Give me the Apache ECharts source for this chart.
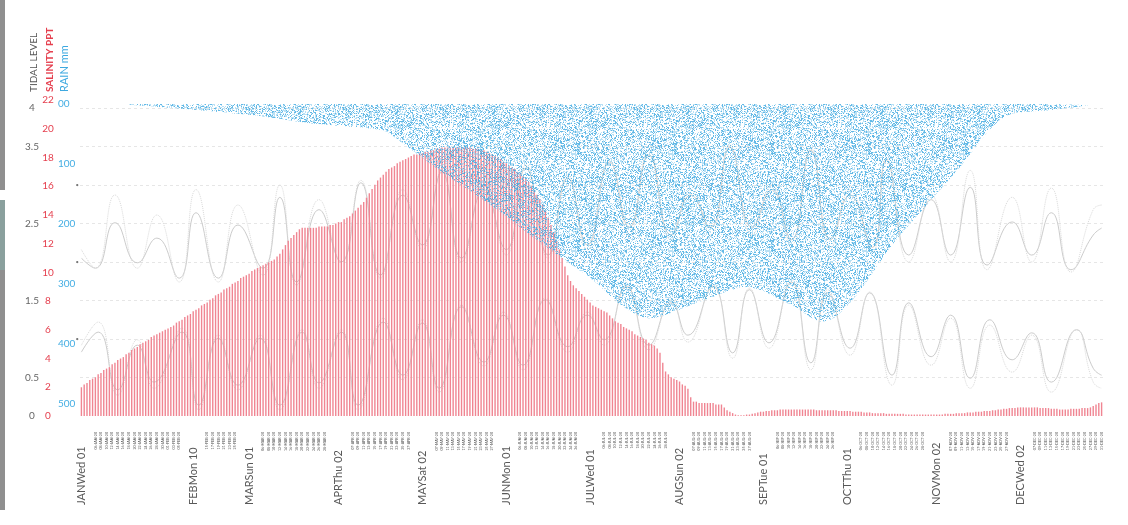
<!DOCTYPE html>
<html>
<head>
<meta charset="utf-8">
<script src="https://cdn.jsdelivr.net/npm/echarts@6/dist/echarts.min.js"></script>
<style>
html, body { margin: 0; padding: 0; background: #fff; }
#chart { width: 1128px; height: 525px; }
</style>
</head>
<body>
<div id="chart"></div>
<script>
// month tick labels (day index in 2020 -> text)
var monthTickDays = [0, 40, 60, 92, 122, 152, 182, 214, 244, 274, 306, 336];
var monthTickText = ['JANWed 01', 'FEBMon 10', 'MARSun 01', 'APRThu 02', 'MAYSat 02', 'JUNMon 01',
                     'JULWed 01', 'AUGSun 02', 'SEPTue 01', 'OCTThu 01', 'NOVMon 02', 'DECWed 02'];

// daily salinity (ppt), one row per month
var salJan = [2.0,2.2,2.3,2.5,2.6,2.7,2.9,3.0,3.2,3.3,3.4,3.6,3.7,3.9,4.0,4.1,4.3,4.4,4.6,4.7,4.8,5.0,5.1,5.2,5.3,5.5,5.6,5.7,5.8,5.9,6.0];
var salFeb = [6.1,6.2,6.3,6.5,6.6,6.7,6.9,7.0,7.1,7.3,7.4,7.5,7.7,7.8,7.9,8.1,8.2,8.4,8.5,8.6,8.8,8.9,9.0,9.2,9.3,9.4,9.6,9.7,9.8];
var salMar = [9.9,10.1,10.2,10.3,10.4,10.5,10.6,10.7,10.8,10.9,11.1,11.3,11.6,11.9,12.2,12.4,12.6,12.8,13.0,13.1,13.1,13.1,13.1,13.1,13.1,13.2,13.2,13.2,13.2,13.3,13.3];
var salApr = [13.4,13.5,13.5,13.7,13.8,13.9,14.1,14.3,14.5,14.7,14.9,15.2,15.5,15.8,16.1,16.4,16.6,16.8,17.0,17.2,17.3,17.4,17.6,17.7,17.8,17.9,18.0,18.1,18.2,18.2];
var salMay = [18.3,18.3,18.4,18.4,18.5,18.5,18.6,18.6,18.7,18.7,18.7,18.7,18.7,18.7,18.7,18.7,18.7,18.7,18.7,18.6,18.6,18.6,18.5,18.5,18.4,18.3,18.2,18.1,18.0,17.9,17.7];
var salJun = [17.6,17.4,17.3,17.2,17.0,16.9,16.7,16.5,16.3,16.0,15.7,15.4,15.1,14.7,14.3,13.8,13.3,12.8,12.2,11.6,11.0,10.4,9.8,9.4,9.1,8.9,8.7,8.5,8.3,8.1];
var salJul = [7.9,7.7,7.6,7.5,7.4,7.3,7.2,7.0,6.8,6.6,6.5,6.4,6.2,6.1,6.0,5.9,5.7,5.6,5.5,5.4,5.3,5.1,5.0,4.9,4.7,4.4,3.7,3.1,2.9,2.7,2.6];
var salAug = [2.5,2.4,2.2,2.1,1.9,1.3,1.0,1.0,0.9,0.9,0.9,0.9,0.9,0.9,0.8,0.8,0.8,0.6,0.4,0.3,0.2,0.1,0.05,0.05,0.05,0.1,0.1,0.15,0.2,0.25,0.3];
var salSep = [0.3,0.35,0.35,0.4,0.4,0.4,0.45,0.45,0.45,0.45,0.45,0.45,0.45,0.45,0.45,0.45,0.45,0.45,0.45,0.4,0.4,0.4,0.4,0.4,0.4,0.4,0.4,0.35,0.35,0.35];
var salOct = [0.35,0.35,0.3,0.3,0.3,0.3,0.25,0.25,0.25,0.2,0.2,0.2,0.2,0.2,0.15,0.15,0.15,0.15,0.15,0.15,0.15,0.1,0.1,0.1,0.1,0.1,0.1,0.1,0.1,0.1,0.1];
var salNov = [0.1,0.1,0.1,0.1,0.15,0.15,0.15,0.15,0.2,0.2,0.2,0.2,0.25,0.25,0.25,0.3,0.3,0.3,0.35,0.35,0.35,0.4,0.4,0.45,0.45,0.5,0.5,0.55,0.55,0.55];
var salDec = [0.6,0.6,0.6,0.6,0.6,0.6,0.6,0.6,0.55,0.55,0.55,0.55,0.5,0.5,0.5,0.45,0.45,0.45,0.45,0.5,0.5,0.5,0.5,0.55,0.55,0.55,0.6,0.7,0.8,0.9,0.95];

// rain (mm), read at the break points of the shaded shape
var rainDays = [14.5, 60, 82, 107, 111, 128, 147, 164, 184, 193, 203, 221, 238, 254, 265, 293, 314, 330, 347, 361];
var rainMm   = [0, 18, 32, 43, 52, 110, 170, 230, 297, 335, 357, 330, 305, 335, 363, 218, 107, 22, 10, 2];

// tidal level, read at daily highs/lows (two lines per band)
var highTideDays = [0,5,12,20,27,35,41,49,56,65,71,77,85,93,100,107,115,122,129,136,144,152,159,167,174,181,189,196,203,211,218,225,232,240,247,254,261,268,275,283,288,296,304,311,318,324,333,340,347,354,362,365];
var highTideA = [2.05,1.92,2.51,1.99,2.31,1.79,2.64,1.79,2.48,1.92,2.84,1.74,2.68,2.0,3.03,1.83,2.87,2.22,3.17,2.05,2.94,2.16,3.22,2.09,3.09,2.22,3.30,2.45,3.39,2.35,2.87,2.45,3.49,2.45,2.94,2.29,3.45,2.29,2.87,2.19,3.32,2.09,2.81,2.09,2.97,1.96,2.52,2.09,2.64,1.90,2.35,2.44];
var highTideB = [2.16,1.92,2.87,1.92,2.61,1.74,2.94,1.74,2.74,1.83,3.0,1.70,2.81,2.0,3.06,1.79,2.94,2.16,3.19,2.0,3.0,2.09,3.26,2.05,3.13,2.16,3.32,2.35,3.45,2.29,2.94,2.35,3.52,2.35,3.0,2.22,3.48,2.18,2.94,2.13,3.35,2.0,2.87,2.0,3.19,1.90,2.84,2.0,2.96,1.87,2.68,2.74];
var lowTideDays = [0,6,13,20,26,36,42,49,56,64,71,79,85,93,99,108,115,122,128,136,144,151,158,166,174,181,187,195,203,211,217,226,233,239,246,254,261,267,275,282,290,296,304,311,318,325,333,340,347,356,362,365];
var lowTideA = [0.83,1.09,0.34,0.92,0.44,1.09,0.14,1.01,0.40,1.01,0.14,1.09,0.43,1.09,0.14,1.22,0.53,1.21,0.36,1.42,0.70,1.31,0.66,1.51,0.90,1.31,0.99,1.68,0.92,1.47,1.05,1.68,0.82,1.64,0.95,1.74,0.69,1.60,0.88,1.60,0.53,1.47,0.77,1.31,0.49,1.25,0.73,1.08,0.44,1.12,0.62,0.53];
var lowTideB = [0.92,1.22,0.27,0.99,0.36,1.14,0.08,1.05,0.34,1.05,0.08,1.12,0.36,1.12,0.08,1.27,0.47,1.25,0.31,1.44,0.65,1.35,0.60,1.53,0.83,1.35,0.92,1.70,0.86,1.51,0.96,1.70,0.75,1.66,0.88,1.77,0.60,1.64,0.79,1.61,0.40,1.44,0.66,1.27,0.36,1.18,0.57,1.05,0.31,1.12,0.44,0.36];

var salinity = [].concat(salJan, salFeb, salMar, salApr, salMay, salJun, salJul, salAug, salSep, salOct, salNov, salDec);

// day categories for 2020
var MON = ['JAN','FEB','MAR','APR','MAY','JUN','JUL','AUG','SEP','OCT','NOV','DEC'];
var dayLabels = [];
for (var i = 0; i < 366; i++) {
    var dt = new Date(2020, 0, 1 + i);
    var dd = ('0' + dt.getDate()).slice(-2);
    dayLabels.push(dd + '-' + MON[dt.getMonth()] + '-20');
}

function pairs(xs, ys) {
    var out = [];
    for (var k = 0; k < xs.length; k++) out.push([xs[k], ys[k]]);
    return out;
}

function smallLabelShown(idx) {
    if (idx % 2 !== 1) return false;
    for (var k = 0; k < monthTickDays.length; k++) {
        if (Math.abs(idx - monthTickDays[k]) <= 3) return false;
    }
    return true;
}

// stipple texture for the rain area (fixed integer hash, no randomness)
function makeDots() {
    var n = 97;
    var c = document.createElement('canvas');
    c.width = n; c.height = n;
    var ctx = c.getContext('2d');
    for (var y = 0; y < n; y++) {
        for (var x = 0; x < n; x++) {
            var h = Math.imul(x, 374761393) + Math.imul(y, 668265263);
            h = Math.imul(h ^ (h >>> 13), 1274126177);
            h = ((h ^ (h >>> 16)) >>> 0) / 4294967296;
            if (h < 0.22) {
                ctx.fillStyle = 'rgba(60,168,224,0.8)';
                ctx.fillRect(x, y, 1, 1);
            } else if (h < 0.5) {
                ctx.fillStyle = 'rgba(125,198,236,0.55)';
                ctx.fillRect(x, y, 1, 1);
            }
        }
    }
    return c;
}

var chart = echarts.init(document.getElementById('chart'));

var tideLine = function (name, data, color, type) {
    return {
        name: name, type: 'line', xAxisIndex: 2, yAxisIndex: 0,
        data: data, smooth: 0.5, showSymbol: false, z: 1,
        lineStyle: { color: color, width: 1, type: type }
    };
};

option = {
    animation: false,
    backgroundColor: '#fff',
    textStyle: { fontFamily: 'Lato' },
    grid: [
        { left: 80, right: 25, top: 108, height: 308 },
        { left: 80, right: 25, top: 104, height: 300 },
        { left: 80, right: 25, top: 100, height: 316 }
    ],
    xAxis: [
        {
            type: 'category', gridIndex: 2, data: dayLabels,
            axisLine: { show: false }, axisTick: { show: false },
            axisLabel: { interval: smallLabelShown, rotate: 90, fontSize: 3.6, color: '#555', margin: 16, hideOverlap: false }
        },
        {
            type: 'category', gridIndex: 2, position: 'bottom', data: dayLabels,
            axisLine: { show: false }, axisTick: { show: false },
            axisLabel: {
                interval: function (idx) { return monthTickDays.indexOf(idx) >= 0; },
                rotate: 90, align: 'left', margin: 89, fontSize: 11, color: '#595959', hideOverlap: false,
                formatter: function (v, idx) { return monthTickText[monthTickDays.indexOf(idx)] || ''; }
            }
        },
        { type: 'value', gridIndex: 0, min: -0.5, max: 365.5, show: false },
        { type: 'value', gridIndex: 1, min: -0.5, max: 365.5, show: false }
    ],
    yAxis: [
        {
            type: 'value', gridIndex: 0, position: 'left', min: 0, max: 4, interval: 0.5,
            axisLine: { show: false }, axisTick: { show: false },
            axisLabel: {
                margin: 48, align: 'center', color: '#666', fontSize: 10,
                formatter: function (v) { return (v === 1 || v === 2 || v === 3) ? '' : String(v); }
            },
            splitLine: { show: true, showMinLine: false, lineStyle: { color: '#e6e6e6', type: [3, 3] } }
        },
        {
            type: 'value', gridIndex: 0, position: 'left', min: 0, max: 4, interval: 1,
            axisLine: { show: false }, axisTick: { show: false }, splitLine: { show: false },
            axisLabel: { margin: 1, fontSize: 6, color: '#777', formatter: function (v) { return (v > 0 && v < 4) ? '•' : ''; } }
        },
        {
            type: 'value', gridIndex: 2, position: 'left', min: 0, max: 22, interval: 2,
            axisLine: { show: false }, axisTick: { show: false }, splitLine: { show: false },
            axisLabel: { margin: 32, align: 'center', color: '#e5404f', fontSize: 10 }
        },
        {
            type: 'value', gridIndex: 1, position: 'left', min: 0, max: 500, interval: 100, inverse: true,
            axisLine: { show: false }, axisTick: { show: false }, splitLine: { show: false },
            axisLabel: { margin: 22, align: 'left', color: '#45aee3', fontSize: 10,
                formatter: function (v) { return v === 0 ? '00' : String(v); } }
        }
    ],
    graphic: [
        { type: 'rect', shape: { x: 0, y: 0, width: 5, height: 190 }, style: { fill: '#8f8f8f' } },
        { type: 'rect', shape: { x: 0, y: 200, width: 5, height: 70 }, style: { fill: '#8aa09d' } },
        { type: 'rect', shape: { x: 0, y: 270, width: 5, height: 240 }, style: { fill: '#8f8f8f' } },
        { type: 'text', x: 34, y: 92, rotation: Math.PI / 2,
          style: { text: 'TIDAL LEVEL', fill: '#555', font: '10px Lato', align: 'left', verticalAlign: 'middle' } },
        { type: 'text', x: 50, y: 92, rotation: Math.PI / 2,
          style: { text: 'SALINITY PPT', fill: '#e5404f', font: 'bold 10px Lato', align: 'left', verticalAlign: 'middle' } },
        { type: 'text', x: 64, y: 92, rotation: Math.PI / 2,
          style: { text: 'RAIN mm', fill: '#3ea9e0', font: '11px Lato', align: 'left', verticalAlign: 'middle' } }
    ],
    series: [
        {
            name: 'Salinity', type: 'bar', xAxisIndex: 0, yAxisIndex: 2,
            data: salinity, barWidth: 1.4, z: 2,
            itemStyle: { color: '#f08592' }
        },
        tideLine('High A', pairs(highTideDays, highTideA), '#cccccc', 'solid'),
        tideLine('High B', pairs(highTideDays, highTideB), '#dadada', 'dotted'),
        tideLine('Low A', pairs(lowTideDays, lowTideA), '#cccccc', 'solid'),
        tideLine('Low B', pairs(lowTideDays, lowTideB), '#dadada', 'dotted'),
        {
            name: 'Rain', type: 'line', xAxisIndex: 3, yAxisIndex: 3,
            data: pairs(rainDays, rainMm), smooth: 0.3, showSymbol: false, z: 5,
            lineStyle: { width: 0 },
            areaStyle: { color: { image: makeDots(), repeat: 'repeat' }, opacity: 1 }
        }
    ]
};
chart.setOption(option);
</script>
</body>
</html>
